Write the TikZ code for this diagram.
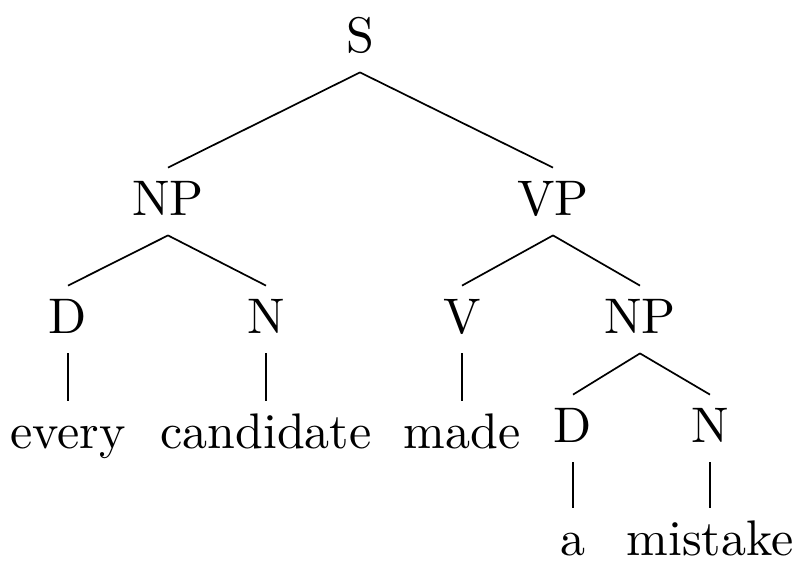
\documentclass[tikz,border=0pt]{standalone}
\usetikzlibrary{positioning}
% 10pt design of Latin Modern, blown up
\font\treefont="[lmroman10-regular.otf]" at 25pt
\tikzset{
  tree-cat/.style={anchor=base,inner sep=0pt,text height=23.5pt,
    text depth=10pt,font=\treefont},
  tree-word/.style={tree-cat},
  branch/.style={draw=black,line width=0.85pt},
}

\begin{document}
\begin{tikzpicture}[x=0.5pt,y=-0.5pt]
  \useasboundingbox (0,0) rectangle (798,564);
  % categories
  \node[tree-cat] (s)   at (360,52)  {S};
  \node[tree-cat] (np)  at (168,215) {NP};
  \node[tree-cat] (vp)  at (553,215) {VP};
  \node[tree-cat] (d)   at (68,333)  {D};
  \node[tree-cat] (n)   at (266,333) {N};
  \node[tree-cat] (v)   at (462,333) {V};
  \node[tree-cat] (obj) at (640,333) {NP};
  \node[tree-cat] (od)  at (573,442) {D};
  \node[tree-cat] (on)  at (710,442) {N};
  % words
  \node[tree-word] (every) at (68,448)  {every};
  \node[tree-word] (cand)  at (266,448) {candidate};
  \node[tree-word] (made)  at (462,448) {made};
  \node[tree-word] (a)     at (573,555) {a};
  \node[tree-word] (mist)  at (710,555) {mistake};
  % branches
  \draw[branch] (s.south) -- (np.north);
  \draw[branch] (s.south) -- (vp.north);
  \draw[branch] (np.south) -- (d.north);
  \draw[branch] (np.south) -- (n.north);
  \draw[branch] (vp.south) -- (v.north);
  \draw[branch] (vp.south) -- (obj.north);
  \draw[branch] (obj.south) -- (od.north);
  \draw[branch] (obj.south) -- (on.north);
  \draw[branch] (d.south) -- (every.north);
  \draw[branch] (n.south) -- (cand.north);
  \draw[branch] (v.south) -- (made.north);
  \draw[branch] (od.south) -- (a.north);
  \draw[branch] (on.south) -- (mist.north);
\end{tikzpicture}
\end{document}
